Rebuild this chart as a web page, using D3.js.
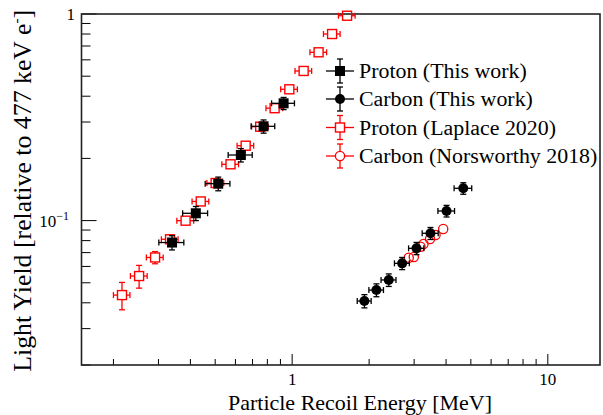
<!DOCTYPE html>
<html><head><meta charset="utf-8">
<script src="https://cdn.jsdelivr.net/npm/d3@7"></script>
<style>
html,body{margin:0;padding:0;background:#fff;}
text{font-family:"Liberation Serif","Times New Roman",serif;}
</style></head>
<body><svg id="c" width="603" height="415"></svg>
<script>
// ---- Data ----
const protonLaplaceE   = [0.216,0.252,0.291,0.333,0.383,0.439,0.502,0.574,0.658,0.750,0.854,0.975,1.109,1.269,1.433,1.640];
const protonLaplaceLY  = [0.0436,0.0539,0.0663,0.0812,0.0999,0.1238,0.152,0.1873,0.2304,0.2847,0.350,0.432,0.530,0.6525,0.800,0.981];
const protonLaplaceEx  = [0.016,0.019,0.022,0.025,0.029,0.033,0.038,0.043,0.049,0.056,0.064,0.073,0.083,0.095,0.107,0.123];
const protonLaplaceLYe = [0.0066,0.0068,0.0045,0.0025,0.003,0.0037,0.0045,0.0056,0.0069,0.0085,0.0105,0.013,0.016,0.019,0.024,0.029];

const protonThisE   = [0.339,0.420,0.514,0.630,0.773,0.926];
const protonThisLY  = [0.0783,0.1085,0.1509,0.2077,0.286,0.3696];
const protonThisEx  = [0.038,0.047,0.057,0.068,0.082,0.095];
const protonThisLYe = [0.0062,0.0085,0.0115,0.0155,0.021,0.025];

const carbonThisE   = [1.917,2.136,2.387,2.693,3.064,3.476,4.017,4.67];
const carbonThisLY  = [0.0408,0.0461,0.0516,0.0621,0.0734,0.0868,0.1113,0.1433];
const carbonThisEx  = [0.12,0.14,0.16,0.18,0.21,0.25,0.3,0.37];
const carbonThisLYe = [0.003,0.0033,0.0036,0.0042,0.005,0.0058,0.0072,0.0092];

const carbonNorsE  = [2.858,2.991,3.177,3.264,3.461,3.638,3.898];
const carbonNorsLY = [0.0661,0.0667,0.0747,0.0770,0.0815,0.0852,0.0911];

const legendLabels = ["Proton (This work)","Carbon (This work)","Proton (Laplace 2020)","Carbon (Norsworthy 2018)"];
const xTitle = "Particle Recoil Energy [MeV]";

// ---- Layout ----
const svg = d3.select("#c");
const L = 81.5, R = 600, T = 14, B = 365;
const x = d3.scaleLog().domain([0.15, 16]).range([L, R]);
const y = d3.scaleLog().domain([0.02, 1]).range([B, T]);

// ---- Ticks (inside, ROOT style) ----
const xMinor = [], yMinor = [];
[0.1,1,10].forEach(d => { for (let k=1;k<10;k++){ const v=d*k; if (v>=0.15 && v<=16) xMinor.push(v);} });
[0.01,0.1].forEach(d => { for (let k=1;k<10;k++){ const v=d*k; if (v>=0.02 && v<=1) yMinor.push(v);} });
yMinor.push(1);

const axG = svg.append("g");
xMinor.forEach(v => {
  const major = Math.abs(Math.log10(v) - Math.round(Math.log10(v))) < 1e-9;
  axG.append("line").attr("x1", x(v)).attr("x2", x(v)).attr("y1", B).attr("y2", B - (major ? 11 : 6))
    .attr("stroke", "#000").attr("stroke-width", 1);
});
yMinor.forEach(v => {
  const major = Math.abs(Math.log10(v) - Math.round(Math.log10(v))) < 1e-9;
  axG.append("line").attr("x1", L).attr("x2", L + (major ? 15 : 9)).attr("y1", y(v)).attr("y2", y(v))
    .attr("stroke", "#000").attr("stroke-width", 1);
});
// frame
svg.append("rect").attr("x", L).attr("y", T).attr("width", R - L).attr("height", B - T)
  .attr("fill", "none").attr("stroke", "#222").attr("stroke-width", 1.6);

// tick labels
[1, 10].forEach(v => {
  svg.append("text").attr("x", x(v)).attr("y", 385).attr("text-anchor", "middle")
    .attr("font-size", 17).text(String(v));
});
svg.append("text").attr("x", 75).attr("y", T + 6).attr("text-anchor", "end").attr("font-size", 17).text("1");
const t10 = svg.append("text").attr("x", 69).attr("y", y(0.1) + 6).attr("text-anchor", "end").attr("font-size", 17);
t10.append("tspan").text("10");
t10.append("tspan").attr("font-size", 12).attr("dy", -7).text("\u22121");

// axis titles
svg.append("text").attr("x", 360).attr("y", 410).attr("text-anchor", "middle").attr("font-size", 22).text(xTitle);
const yt = svg.append("text").attr("transform", "translate(31,10) rotate(-90)").attr("text-anchor", "end").attr("font-size", 25.8);
yt.append("tspan").text("Light Yield [relative to 477 keV e");
yt.append("tspan").attr("font-size", 15).attr("dy", -10).text("-");
yt.append("tspan").attr("dy", 10).text("]");

// ---- Marks ----
function errBars(g, E, LY, Ex, LYe, color, gap, cap) {
  E.forEach((e, i) => {
    const cx = x(e), cy = y(LY[i]);
    const xl = x(e - Ex[i]), xr = x(e + Ex[i]);
    const yl = y(LY[i] - LYe[i]), yh = y(LY[i] + LYe[i]);
    const segs = [];
    if (cx - xl > gap) segs.push([xl, cy, cx - gap, cy], [xl, cy - cap, xl, cy + cap]);
    if (xr - cx > gap) segs.push([cx + gap, cy, xr, cy], [xr, cy - cap, xr, cy + cap]);
    if (yl - cy > gap) segs.push([cx, cy + gap, cx, yl], [cx - cap, yl, cx + cap, yl]);
    if (cy - yh > gap) segs.push([cx, yh, cx, cy - gap], [cx - cap, yh, cx + cap, yh]);
    segs.forEach(s => g.append("line").attr("x1", s[0]).attr("y1", s[1]).attr("x2", s[2]).attr("y2", s[3])
      .attr("stroke", color).attr("stroke-width", 1.3));
  });
}
const gRed = svg.append("g");
errBars(gRed, protonLaplaceE, protonLaplaceLY, protonLaplaceEx, protonLaplaceLYe, "#ff0000", 4.5, 3);
gRed.selectAll("rect.lp").data(protonLaplaceE).enter().append("rect")
  .attr("x", (d) => x(d) - 4.5).attr("y", (d, i) => y(protonLaplaceLY[i]) - 4.5)
  .attr("width", 9).attr("height", 9).attr("fill", "none").attr("stroke", "#ff0000").attr("stroke-width", 1.4);
gRed.selectAll("circle.nw").data(carbonNorsE).enter().append("circle")
  .attr("cx", d => x(d)).attr("cy", (d, i) => y(carbonNorsLY[i])).attr("r", 4.6)
  .attr("fill", "none").attr("stroke", "#ff0000").attr("stroke-width", 1.3);

const gBlk = svg.append("g");
errBars(gBlk, protonThisE, protonThisLY, protonThisEx, protonThisLYe, "#000", 0, 3);
errBars(gBlk, carbonThisE, carbonThisLY, carbonThisEx, carbonThisLYe, "#000", 0, 3);
gBlk.selectAll("rect.pt").data(protonThisE).enter().append("rect")
  .attr("x", d => x(d) - 5).attr("y", (d, i) => y(protonThisLY[i]) - 5)
  .attr("width", 10).attr("height", 10).attr("fill", "#000");
gBlk.selectAll("circle.ct").data(carbonThisE).enter().append("circle")
  .attr("cx", d => x(d)).attr("cy", (d, i) => y(carbonThisLY[i])).attr("r", 5).attr("fill", "#000");

// ---- Legend ----
const legY = [71, 99, 127.5, 156];
const lx = 340, lx0 = 326, lx1 = 354;
legendLabels.forEach((lab, i) => {
  const g = svg.append("g");
  const c = i < 2 ? "#000" : "#ff0000";
  const yy = legY[i];
  const gap = i < 2 ? 0 : 4.5;
  const segs = [[lx0, yy, lx - gap, yy], [lx + gap, yy, lx1, yy], [lx, yy - 12, lx, yy - gap], [lx, yy + gap, lx, yy + 12],
    [lx - 3, yy - 12, lx + 3, yy - 12], [lx - 3, yy + 12, lx + 3, yy + 12]];
  segs.forEach(s => g.append("line").attr("x1", s[0]).attr("y1", s[1]).attr("x2", s[2]).attr("y2", s[3])
    .attr("stroke", c).attr("stroke-width", 1.3));
  if (i === 0) g.append("rect").attr("x", lx - 5).attr("y", yy - 5).attr("width", 10).attr("height", 10).attr("fill", "#000");
  if (i === 1) g.append("circle").attr("cx", lx).attr("cy", yy).attr("r", 5).attr("fill", "#000");
  if (i === 2) g.append("rect").attr("x", lx - 4.5).attr("y", yy - 4.5).attr("width", 9).attr("height", 9).attr("fill", "none").attr("stroke", c).attr("stroke-width", 1.4);
  if (i === 3) g.append("circle").attr("cx", lx).attr("cy", yy).attr("r", 4.6).attr("fill", "none").attr("stroke", c).attr("stroke-width", 1.3);
  g.append("text").attr("x", 359).attr("y", yy + 7).attr("font-size", 21.9).text(lab);
});
</script></body></html>
